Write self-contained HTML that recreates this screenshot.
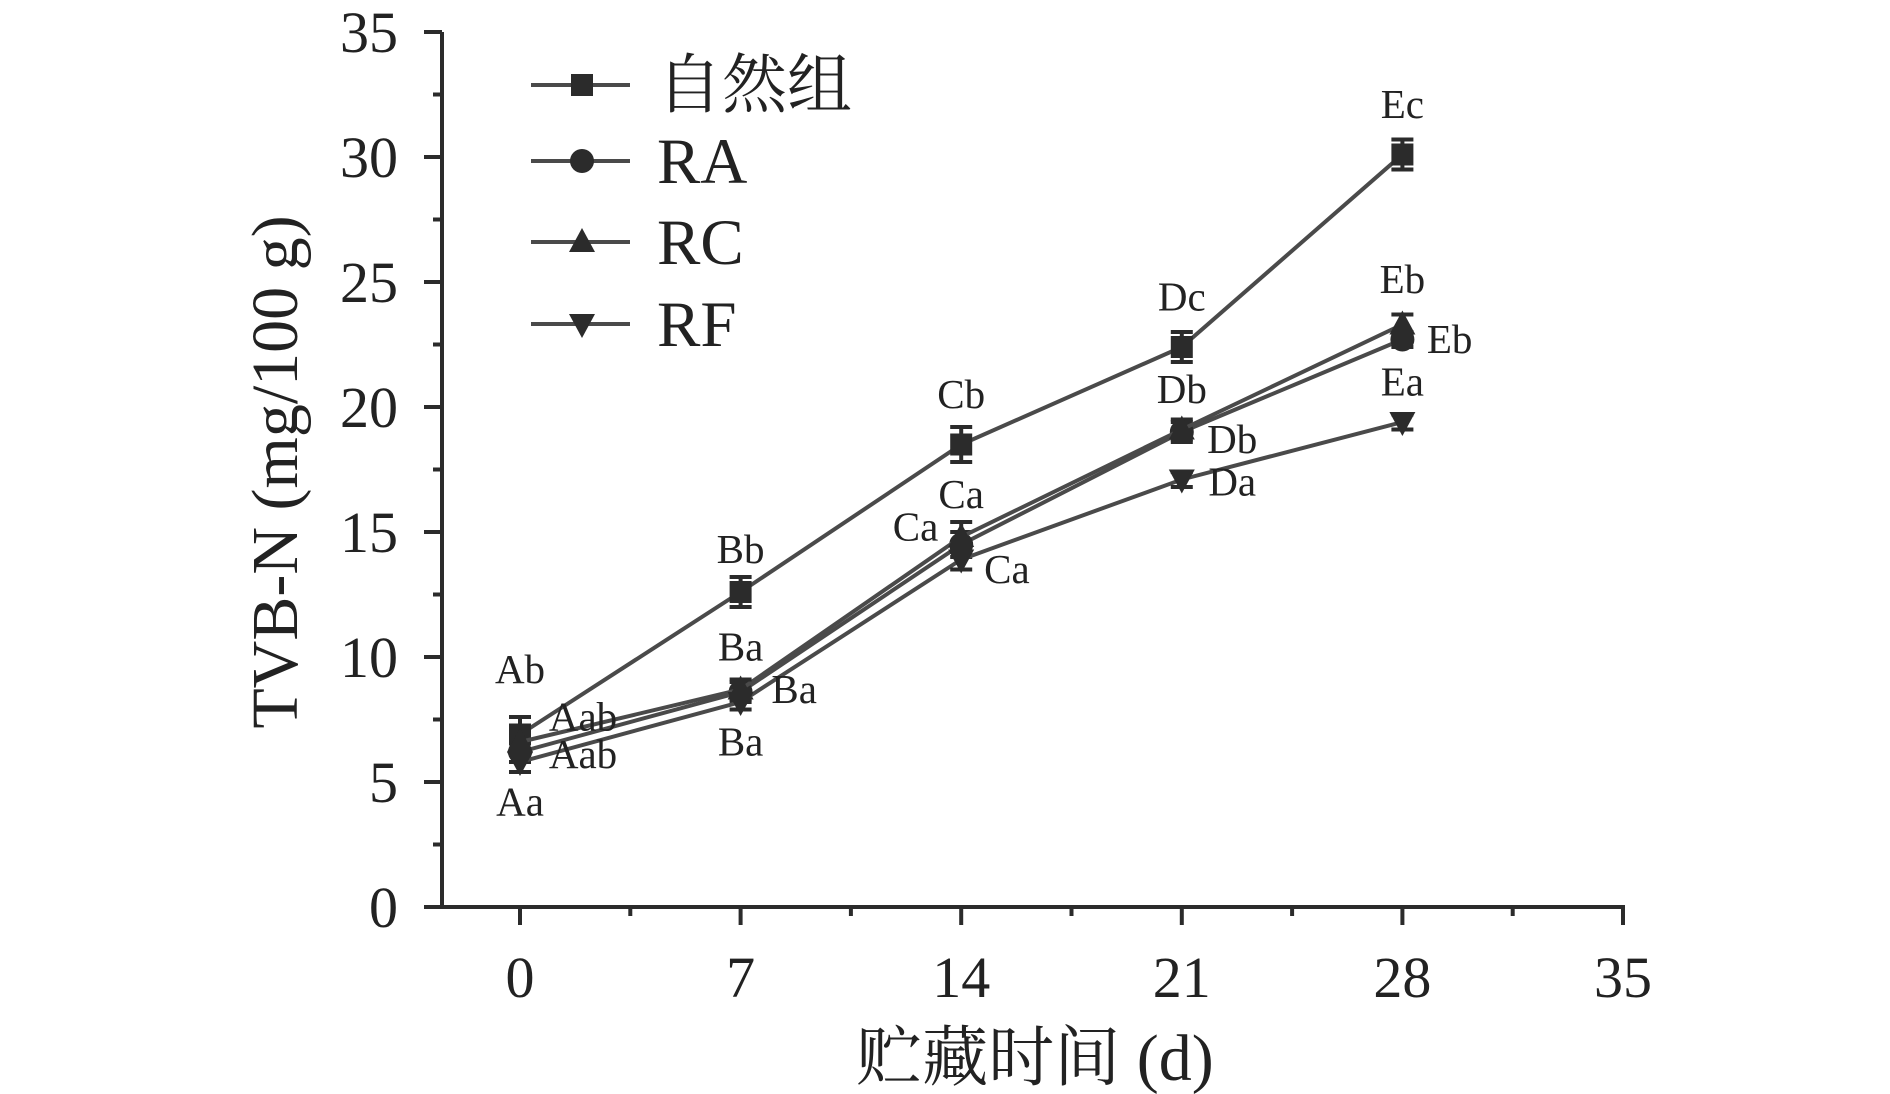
<!DOCTYPE html>
<html><head><meta charset="utf-8"><style>
html,body{margin:0;padding:0;background:#fff}
svg{display:block}
text{font-family:"Liberation Serif","Noto Serif CJK SC",serif;fill:#222}
</style></head><body>
<svg id="chart" width="1890" height="1094" viewBox="0 0 1890 1094" xmlns="http://www.w3.org/2000/svg"></svg>
<script>
const days = [0, 7, 14, 21, 28];
const seriesNames = ["自然组", "RA", "RC", "RF"];
const natural = [6.9, 12.6, 18.5, 22.4, 30.1];
const ra = [6.2, 8.6, 14.5, 19.0, 22.7];
const rc = [6.6, 8.7, 14.8, 19.1, 23.3];
const rf = [5.8, 8.2, 13.9, 17.1, 19.4];
const naturalErr = [0.7, 0.6, 0.7, 0.6, 0.6];
const raErr = [0.4, 0.4, 0.5, 0.4, 0.3];
const rcErr = [0.5, 0.4, 0.6, 0.4, 0.4];
const rfErr = [0.4, 0.3, 0.4, 0.3, 0.3];
const xTicks = [0, 7, 14, 21, 28, 35];
const yTicks = [0, 5, 10, 15, 20, 25, 30, 35];
const labelText = ["Ab","Aab","Aab","Aa","Bb","Ba","Ba","Ba","Cb","Ca","Ca","Ca","Dc","Db","Db","Da","Ec","Eb","Eb","Ea"];
const labelX = [0,2,2,0,7,7,8.7,7,14,14,12.55,15.45,21,21,22.6,22.6,28,28,29.5,28];
const labelY = [9.2,7.3,5.8,3.9,14.0,10.1,8.4,6.3,20.2,16.2,14.9,13.2,24.1,20.4,18.4,16.7,31.8,24.8,22.4,20.7];

const NS = "http://www.w3.org/2000/svg";
const svg = document.getElementById("chart");
const X0 = 520, XPER = 1103/35, Y0 = 907, YPER = 25;
const px = d => X0 + d*XPER;
const py = v => Y0 - v*YPER;
const C = "#2b2b2b", L = "#4a4a4a";
function mk(tag, attrs, parent){
  const e = document.createElementNS(NS, tag);
  for (const k in attrs) e.setAttribute(k, attrs[k]);
  (parent||svg).appendChild(e);
  return e;
}
const axes = mk("g", {});


mk("line",{x1:442,y1:907,x2:px(35)+2,y2:907,stroke:C,"stroke-width":4},axes);
mk("line",{x1:442,y1:32,x2:442,y2:909,stroke:C,"stroke-width":4},axes);
xTicks.forEach((t,i)=>{
  mk("line",{x1:px(t),y1:907,x2:px(t),y2:925,stroke:C,"stroke-width":4},axes);
  if(i<xTicks.length-1) mk("line",{x1:px(t+3.5),y1:907,x2:px(t+3.5),y2:916,stroke:C,"stroke-width":4},axes);
  const tx = mk("text",{x:px(t),y:997,"text-anchor":"middle","font-size":58},axes);
  tx.textContent = t;
  
  
});
yTicks.forEach((t,i)=>{
  mk("line",{x1:424,y1:py(t),x2:442,y2:py(t),stroke:C,"stroke-width":4},axes);
  if(i<yTicks.length-1) mk("line",{x1:433,y1:py(t+2.5),x2:442,y2:py(t+2.5),stroke:C,"stroke-width":4},axes);
  const tx = mk("text",{x:398,y:py(t)+20,"text-anchor":"end","font-size":58},axes);
  tx.textContent = t;
  
  
});
const xt = mk("text",{x:1035,y:1080,"text-anchor":"middle","font-size":66});
xt.textContent = "贮藏时间 (d)";


const yt = mk("text",{x:0,y:0,"text-anchor":"middle","font-size":66,transform:"translate(297,472) rotate(-90)"});
yt.textContent = "TVB-N (mg/100 g)";



function marker(shape, x, y, g){
  const s = 11;
  if(shape==="square") return mk("rect",{x:x-s,y:y-s,width:2*s,height:2*s,fill:C},g);
  if(shape==="circle") return mk("circle",{cx:x,cy:y,r:12,fill:C},g);
  if(shape==="up") return mk("polygon",{points:`${x},${y-14} ${x+13},${y+10} ${x-13},${y+10}`,fill:C},g);
  return mk("polygon",{points:`${x},${y+14} ${x+13},${y-10} ${x-13},${y-10}`,fill:C},g);
}
const allSeries = [natural, ra, rc, rf];
const allErr = [naturalErr, raErr, rcErr, rfErr];
const shapes = ["square","circle","up","down"];
const keys = ["natural","ra","rc","rf"];
allSeries.forEach((vals, si)=>{
  const g = mk("g",{});
  
  
  const pts = vals.map((v,i)=>`${px(days[i])},${py(v)}`).join(" ");
  mk("polyline",{points:pts,fill:"none",stroke:L,"stroke-width":4},g);
  vals.forEach((v,i)=>{
    const x = px(days[i]), e = allErr[si][i];
    mk("line",{x1:x,y1:py(v+e),x2:x,y2:py(v-e),stroke:C,"stroke-width":4},g);
    mk("line",{x1:x-11,y1:py(v+e),x2:x+11,y2:py(v+e),stroke:C,"stroke-width":4},g);
    mk("line",{x1:x-11,y1:py(v-e),x2:x+11,y2:py(v-e),stroke:C,"stroke-width":4},g);
    const m = marker(shapes[si], x, py(v), g);
    
    
  });
});
labelText.forEach((t,i)=>{
  const tx = mk("text",{x:px(labelX[i]),y:py(labelY[i])+6,"text-anchor":"middle","font-size":41});
  tx.textContent = t;
  
  
});
const leg = mk("g",{});


const legY = [85, 161, 242, 324];
seriesNames.forEach((n,i)=>{
  const e = mk("g",{},leg);
  
  
  mk("line",{x1:531,y1:legY[i],x2:630,y2:legY[i],stroke:L,"stroke-width":4},e);
  marker(shapes[i],582,legY[i],e);
  const tx = mk("text",{x:657,y:legY[i]+22,"font-size":65},e);
  tx.textContent = n;
});
</script>
</body></html>
